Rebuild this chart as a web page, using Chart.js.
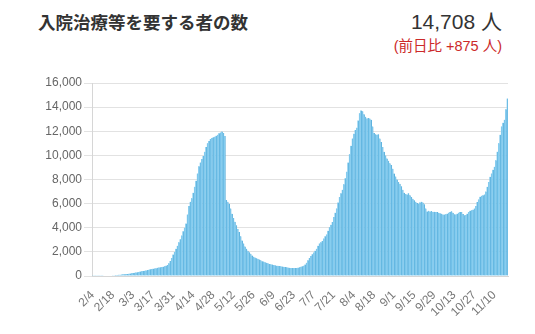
<!DOCTYPE html>
<html lang="ja">
<head>
<meta charset="utf-8">
<script src="https://cdn.jsdelivr.net/npm/chart.js@4"></script>
<style>
  html, body { margin: 0; padding: 0; background: #fff; }
  body { width: 535px; height: 334px; position: relative; overflow: hidden;
         font-family: "Liberation Sans", "Noto Sans CJK JP", sans-serif; }
  #title { position: absolute; left: 38px; top: 10px; font-size: 17.5px; font-weight: bold;
           color: #333; font-family: "Noto Sans CJK JP", sans-serif; line-height: 24px; }
  #total { position: absolute; right: 33px; top: 8px; font-size: 21px; color: #333; line-height: 28px; }
  #diff { position: absolute; right: 33px; top: 36px; font-size: 14.5px; color: #cc2a2a; line-height: 20px; }
  #wrap { position: absolute; left: 0; top: 0; width: 535px; height: 334px; }
</style>
</head>
<body>
<div id="title">入院治療等を要する者の数</div>
<div id="total">14,708 人</div>
<div id="diff">(前日比 +875 人)</div>
<div id="wrap"><canvas id="chart"></canvas></div>
<script>
// ---------------- Data (2020, daily) ----------------
const feb = [15, 18, 20, 22, 25, 25, 28, 30, 32, 35, 38, 40, 45, 50, 60, 70, 80, 90, 100, 110, 120, 135, 150, 160, 175, 190]; // from 2/4
const mar = [200, 220, 245, 270, 300, 320, 340, 370, 390, 410, 430, 460, 490, 520, 560, 590, 610, 630, 650, 680, 700, 720, 740, 770, 810, 860, 920, 1050, 1250, 1500, 1780];
const apr = [2000, 2250, 2500, 2800, 3050, 3350, 3700, 4000, 4350, 5100, 5800, 6150, 6450, 6900, 7400, 7900, 8500, 9100, 9400, 9700, 9950, 10300, 10700, 11000, 11200, 11350, 11450, 11500, 11550, 11620];
const may = [11700, 11840, 11900, 11980, 11850, 11600, 6300, 6150, 6000, 5600, 5170, 4800, 4500, 4200, 3900, 3640, 3300, 2950, 2700, 2450, 2250, 2100, 1970, 1850, 1700, 1600, 1530, 1470, 1420, 1360, 1300];
const jun = [1230, 1200, 1150, 1100, 1060, 1000, 980, 950, 920, 890, 860, 840, 820, 800, 780, 760, 740, 720, 700, 680, 670, 660, 660, 670, 670, 690, 720, 760, 810, 860];
const jul = [950, 1100, 1300, 1500, 1650, 1800, 1950, 2100, 2250, 2500, 2700, 2800, 2900, 3100, 3300, 3450, 3750, 4050, 4250, 4480, 4900, 5250, 5600, 6100, 6550, 6850, 7150, 7600, 8100, 8650, 9400];
const aug = [10100, 10800, 11400, 11800, 12100, 12300, 12900, 13500, 13730, 13650, 13400, 13200, 13050, 13100, 13050, 12950, 12400, 11850, 11750, 11700, 11750, 11400, 11100, 10700, 10300, 10000, 9750, 9550, 9350, 9200, 8900];
const sep = [8500, 8250, 8000, 7800, 7650, 7450, 7150, 6900, 6800, 6750, 6850, 6700, 6550, 6400, 6280, 6150, 6050, 6000, 6100, 6150, 6100, 5950, 5600, 5350, 5400, 5350, 5380, 5300, 5320, 5300];
const oct = [5300, 5250, 5200, 5170, 5100, 5090, 5120, 5170, 5250, 5300, 5370, 5250, 5120, 5100, 5170, 5250, 5300, 5310, 5150, 5030, 5050, 5170, 5300, 5400, 5450, 5500, 5590, 5800, 6140, 6350, 6560];
const nov = [6650, 6700, 6750, 7000, 7390, 7800, 8230, 8500, 8800, 9060, 9600, 10310, 11000, 11700, 12400, 12700, 12950, 13833, 14708]; // to 11/19

const months = [[2, 4, feb], [3, 1, mar], [4, 1, apr], [5, 1, may], [6, 1, jun],
                [7, 1, jul], [8, 1, aug], [9, 1, sep], [10, 1, oct], [11, 1, nov]];
const yTicks = [0, 2000, 4000, 6000, 8000, 10000, 12000, 14000, 16000];
const labelEvery = 14; // 2/4, 2/18, 3/3 ...

// ---------------- Build labels / values ----------------
const labels = [];
const values = [];
months.forEach(([m, firstDay, arr]) => {
  arr.forEach((v, i) => {
    labels.push(m + "/" + (firstDay + i));
    values.push(v);
  });
});

// ---------------- Chart ----------------
const ctx = document.getElementById("chart").getContext("2d");
new Chart(ctx, {
  type: "bar",
  data: {
    labels: labels,
    datasets: [
      {
        data: values,
        backgroundColor: "#85cdf0",
        borderColor: "#4aa5d5",
        borderWidth: { left: 0, right: 0.7, top: 0, bottom: 0 },
        barPercentage: 1,
        categoryPercentage: 1,
      },
    ],
  },
  options: {
    responsive: true,
    maintainAspectRatio: false,
    animation: false,
    layout: { padding: { top: 83, right: 27, left: 0, bottom: 0 } },
    plugins: {
      legend: { display: false },
      tooltip: { enabled: false },
    },
    scales: {
      x: {
        grid: { display: false },
        border: { display: true, color: "#d6d6d6" },
        ticks: {
          autoSkip: false,
          minRotation: 45,
          maxRotation: 45,
          color: "#777",
          padding: 4,
          font: { family: "'Liberation Sans', Arial, sans-serif", size: 12 },
          callback: function (val, idx) {
            return idx % labelEvery === 0 ? labels[idx] : null;
          },
        },
        afterFit: (s) => { s.height = 58; },
      },
      y: {
        min: 0,
        max: 16000,
        afterBuildTicks: (s) => { s.ticks = yTicks.map((v) => ({ value: v })); },
        grid: { color: "#e2e2e2", tickLength: 8 },
        border: { display: true, color: "#d6d6d6" },
        ticks: {
          color: "#666",
          padding: 2,
          font: { family: "'Liberation Sans', Arial, sans-serif", size: 12 },
          callback: (v) => v.toLocaleString("en-US"),
        },
        afterFit: (s) => { s.width = 92; },
      },
    },
  },
});
</script>
</body>
</html>
